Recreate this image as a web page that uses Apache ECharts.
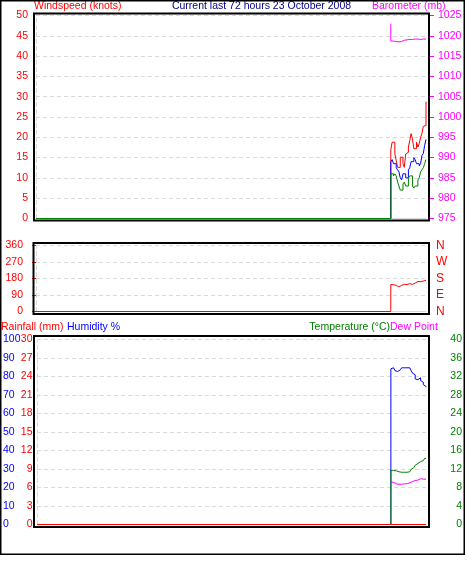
<!DOCTYPE html>
<html>
<head>
<meta charset="utf-8">
<script src="https://cdn.jsdelivr.net/npm/echarts@6/dist/echarts.min.js"></script>
<style>
html,body{margin:0;padding:0;background:#fff;}
#chart{width:467px;height:563px;}
</style>
</head>
<body>
<div id="chart"></div>
<script>
// ---- data (hours on a 72-hour window; logging starts at 65.5 h) ----
const historyStart = 0;
const windowEnd = 72;
const hours = [65.5, 65.75, 66, 66.25, 66.5, 66.75, 67, 67.25, 67.5, 67.75, 68, 68.25, 68.5, 68.75, 69, 69.25, 69.5, 69.75, 70, 70.25, 70.5, 70.75, 71, 71.25, 71.5, 71.75, 72];
const gust = [16.9, 18.8, 18.8, 15.9, 14.3, 12.6, 12.6, 15.1, 15.1, 13.5, 12.6, 15.9, 16.3, 17.6, 19.2, 20.9, 19.6, 17.2, 17.2, 18.8, 17.6, 18.4, 20.0, 20.9, 22.7, 22.9, 28.8];
const windAvg = [14, 14.5, 13.5, 13.5, 12.5, 12, 11.5, 10, 9.5, 11, 11, 10, 10, 12, 12.5, 14, 14, 15, 14.5, 13.5, 13.5, 13, 13.5, 15.5, 16, 18, 19.5];
const windLow = [11, 11, 10.5, 11, 10.5, 9, 8, 7, 7, 8.5, 9, 8, 8, 10, 10.5, 10.5, 8, 7.5, 8, 8, 9.5, 10, 11.5, 12, 12.5, 13.5, 14.5];
const baroStart = 1023;
const barometer = [1018.7, 1018.7, 1018.7, 1018.6, 1018.6, 1018.5, 1018.5, 1018.6, 1018.8, 1018.9, 1019.0, 1019.0, 1019.1, 1019.1, 1019.0, 1019.1, 1019.1, 1019.2, 1019.2, 1019.2, 1019.2, 1019.1, 1019.1, 1019.2, 1019.2, 1019.2, 1019.1];
const direction = [147, 146, 144, 143, 142, 134, 136, 143, 145, 148, 148, 147, 150, 152, 151, 148, 148, 155, 155, 164, 166, 163, 163, 166, 168, 170, 170];
const humidity = [84.2, 84.7, 83.8, 83.2, 82.7, 82.7, 83.6, 83.6, 84.7, 84.7, 84.7, 84.7, 84.7, 84.7, 84.3, 83.2, 81.8, 80.9, 78.7, 78.3, 78.3, 79.3, 77.8, 76.9, 75.6, 74.6, 74.2];
const temperature = [11.7, 11.7, 11.6, 11.6, 11.5, 11.4, 11.4, 11.3, 11.3, 11.3, 11.3, 11.3, 11.3, 11.4, 11.6, 11.9, 12.3, 12.6, 12.8, 13.2, 13.4, 13.6, 13.7, 13.8, 14.0, 14.3, 14.4];
const dewPoint = [9.2, 9.1, 8.9, 8.8, 8.8, 8.7, 8.7, 8.7, 8.7, 8.8, 8.8, 8.8, 9.0, 9.0, 9.2, 9.3, 9.4, 9.5, 9.6, 9.6, 9.9, 9.9, 9.9, 9.8, 9.8, 9.8, 9.8];
const rainHours = [0, 72];
const rainfall = [0, 0];
const compassTicks = {0: 'N', 90: 'E', 180: 'S', 270: 'W', 360: 'N'};
const titleText = 'Current last 72 hours 23 October 2008';

// ---- helpers ----
const FONT = 'Liberation Sans, Arial, sans-serif';
const FS = 10.5;
const GRIDC = '#d9d9d9';
function pairs(xs, ys) { return xs.map((x, i) => [x, ys[i]]); }
function withHistory(ys) { return [[historyStart, 0]].concat(pairs(hours, ys)); }
function line(data, color, xi, yi) {
  return { type: 'line', data: data, xAxisIndex: xi, yAxisIndex: yi, step: 'end',
    showSymbol: false, symbol: 'none', lineStyle: { color: color, width: 1 }, itemStyle: { color: color },
    silent: true, animation: false };
}
function xAx(gi) {
  return { type: 'value', gridIndex: gi, min: 0, max: windowEnd,
    axisLine: { show: true, onZero: false, lineStyle: { color: GRIDC, width: 1 } },
    axisTick: { show: false }, axisLabel: { show: false }, splitLine: { show: false } };
}
const dashed = { show: true, lineStyle: { color: GRIDC, type: [4, 3], width: 1 } };
function lbl(color, margin, extra) {
  return Object.assign({ color: color, fontFamily: FONT, fontSize: FS, margin: margin,
    showMinLabel: true, showMaxLabel: true, formatter: v => String(v) }, extra || {});
}
function txt(x, y, s, color, align) {
  return { type: 'text', x: x, y: y, silent: true,
    style: { text: s, fill: color, font: FS + 'px ' + FONT, textAlign: align || 'left', textVerticalAlign: 'middle' } };
}
function box(x, y, w, h, lw) {
  return { type: 'rect', silent: true, z: 100, shape: { x: x, y: y, width: w, height: h },
    style: { fill: 'none', stroke: '#000', lineWidth: lw } };
}

const option = {
  animation: false,
  backgroundColor: '#fff',
  grid: [
    { left: 36, right: 41, top: 15.5, height: 203 },
    { left: 36, right: 41, top: 245.5, height: 66 },
    { left: 36, right: 41, top: 339.5, height: 185 }
  ],
  xAxis: [xAx(0), xAx(1), xAx(2)],
  yAxis: [
    // 0 windspeed
    { type: 'value', gridIndex: 0, position: 'left', min: 0, max: 50, interval: 5,
      axisLine: { show: true, lineStyle: { color: GRIDC, type: [4, 3] } }, axisTick: { show: false },
      axisLabel: lbl('#ff0000', 8), splitLine: dashed },
    // 1 barometer
    { type: 'value', gridIndex: 0, position: 'right', offset: 4, min: 975, max: 1025, interval: 5,
      axisLine: { show: false }, axisTick: { show: true, length: 4, lineStyle: { color: '#ff00ff' } },
      axisLabel: lbl('#ff00ff', 8), splitLine: { show: false } },
    // 2 direction degrees
    { type: 'value', gridIndex: 1, position: 'left', offset: 4, min: 0, max: 360, interval: 90,
      axisLine: { show: false }, axisTick: { show: true, length: 4, lineStyle: { color: '#ff0000' } },
      axisLabel: lbl('#ff0000', 9), splitLine: dashed },
    // 3 direction dashed edge
    { type: 'value', gridIndex: 1, position: 'left', offset: 0, min: 0, max: 360, interval: 90,
      axisLine: { show: true, lineStyle: { color: GRIDC, type: [4, 3] } }, axisTick: { show: false },
      axisLabel: { show: false }, splitLine: { show: false } },
    // 4 compass
    { type: 'value', gridIndex: 1, position: 'right', min: 0, max: 360, interval: 90,
      axisLine: { show: false }, axisTick: { show: false },
      axisLabel: lbl('#ff0000', 10, { fontSize: 12, formatter: v => compassTicks[v] || '' }), splitLine: { show: false } },
    // 5 humidity
    { type: 'value', gridIndex: 2, position: 'left', min: 0, max: 100, interval: 10,
      axisLine: { show: true, lineStyle: { color: GRIDC, type: [4, 3] } }, axisTick: { show: false },
      axisLabel: lbl('#0000ff', 34, { align: 'left' }), splitLine: dashed },
    // 6 rainfall
    { type: 'value', gridIndex: 2, position: 'left', min: 0, max: 30, interval: 3,
      axisLine: { show: false }, axisTick: { show: false },
      axisLabel: lbl('#ff0000', 4.5), splitLine: { show: false } },
    // 7 temperature
    { type: 'value', gridIndex: 2, position: 'right', min: 0, max: 40, interval: 4,
      axisLine: { show: false }, axisTick: { show: false },
      axisLabel: lbl('#008000', 36, { align: 'right' }), splitLine: { show: false } }
  ],
  series: [
    line(withHistory(gust), '#ff0000', 0, 0),
    line(withHistory(windAvg), '#0000ff', 0, 0),
    line(withHistory(windLow), '#008000', 0, 0),
    line([[hours[0], baroStart]].concat(pairs(hours, barometer)), '#ff00ff', 0, 1),
    line(withHistory(direction), '#ff0000', 1, 2),
    line(withHistory(humidity), '#0000ff', 2, 5),
    line(pairs(hours, dewPoint), '#ff00ff', 2, 7),
    line(withHistory(temperature), '#008000', 2, 7),
    line(pairs(rainHours, rainfall), '#ff0000', 2, 6)
  ],
  graphic: [
    box(0.75, 0.75, 463.5, 553.5, 1.5),
    box(34, 13.5, 395, 207, 2),
    box(33.5, 243, 395.5, 71, 2),
    box(34, 336, 395, 191, 2),
    txt(34, 6.5, 'Windspeed (knots)', '#ff0000'),
    txt(261.5, 6.5, titleText, '#000080', 'center'),
    txt(372, 6.5, 'Barometer (mb)', '#ff00ff'),
    txt(1, 327.5, 'Rainfall (mm)', '#ff0000'),
    txt(67, 327.5, 'Humidity %', '#0000ff'),
    txt(390, 327.5, 'Temperature (°C)', '#008000', 'right'),
    txt(390, 327.5, 'Dew Point', '#ff00ff')
  ]
};

const chart = echarts.init(document.getElementById('chart'), null, { renderer: 'canvas' });
chart.setOption(option);
</script>
</body>
</html>
